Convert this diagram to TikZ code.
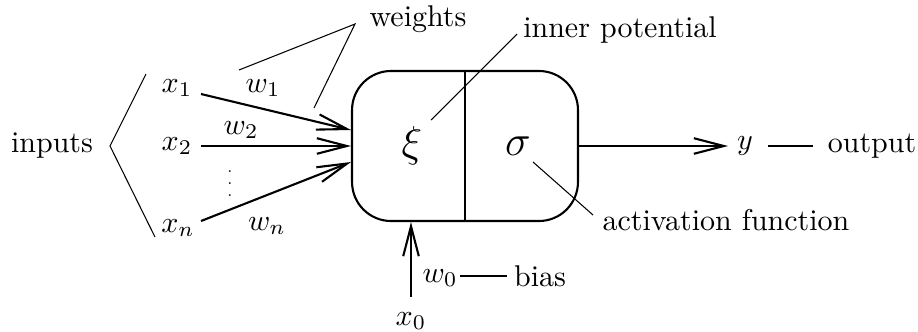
\documentclass[tikz,border=0pt]{standalone}
\usetikzlibrary{arrows.meta}
\begin{document}
\begin{tikzpicture}[x=0.3333pt,y=-0.3333pt,
  font=\fontsize{10}{12}\selectfont,
  heavy/.style={line width=0.7pt},
  light/.style={line width=0.35pt},
  barb/.style={-{Straight Barb[length=10pt,width=5.2pt,line width=0.7pt]}},
  lbl/.style={inner sep=0pt}]
\useasboundingbox (0,0) rectangle (918,331);

% neuron body
\node[draw, heavy, rounded corners=13pt, minimum width=75.3pt, minimum height=50pt, inner sep=0pt] (neuron) at (465,146) {};
\draw[heavy] (neuron.north) -- (neuron.south);
\node[lbl] (xi) at (412,146) {\Large$\xi$};
\node[lbl] (sigma) at (518,146) {\Large$\sigma$};

% inputs
\node[lbl] (inputs) at (52,146) {inputs};
\coordinate (bt) at (146,74);
\coordinate (bv) at (110,146);
\coordinate (bb) at (155,237);
\draw[light] (bt) -- (bv) -- (bb);

\node[lbl] (x1) at (177,88) {$x_1$};
\node[lbl] (x2) at (177,146) {$x_2$};
\node[lbl] (xn) at (178,228) {$x_n$};
\node[lbl] (vd) at (230,175) {\tiny$\vdots$};

\coordinate (s1) at (201,94);
\coordinate (s2) at (201,146);
\coordinate (sn) at (201,221);
\coordinate (e1) at (351,130);
\coordinate (e2) at (351,146);
\coordinate (en) at (351,162);
\draw[heavy,barb] (s1) -- (e1);
\draw[heavy,barb] (s2) -- (e2);
\draw[heavy,barb] (sn) -- (en);

\node[lbl] (w1) at (263,88) {$w_1$};
\node[lbl] (w2) at (241,130) {$w_2$};
\node[lbl] (wn) at (267,226) {$w_n$};

% weights
\node[lbl] (weights) at (418,19) {weights};
\coordinate (wa) at (355,24);
\coordinate (wl) at (239,70);
\coordinate (wr) at (314,108);
\draw[light] (wl) -- (wa) -- (wr);

% inner potential
\node[lbl] (inner) at (620,30) {inner potential};
\coordinate (ia) at (517,34);
\coordinate (ib) at (431,120);
\draw[light] (ia) -- (ib);

% activation function
\node[lbl] (act) at (726,220) {activation function};
\coordinate (aa) at (533,162);
\coordinate (ab) at (593,215);
\draw[light] (aa) -- (ab);

% output
\node[lbl] (y) at (745,146) {$y$};
\draw[heavy,barb] (neuron.east) -- (728,146);
\coordinate (oa) at (768,146);
\coordinate (ob) at (813,146);
\draw[light] (oa) -- (ob);
\node[lbl] (output) at (872,146) {output};

% bias
\node[lbl] (x0) at (411,321) {$x_0$};
\coordinate (bs) at (411,297);
\draw[heavy,barb] (bs) -- (411,222);
\node[lbl] (w0) at (440,278) {$w_0$};
\coordinate (ba) at (460,276);
\coordinate (bbb) at (507,276);
\draw[light] (ba) -- (bbb);
\node[lbl] (bias) at (540,276) {bias};
\end{tikzpicture}
\end{document}
